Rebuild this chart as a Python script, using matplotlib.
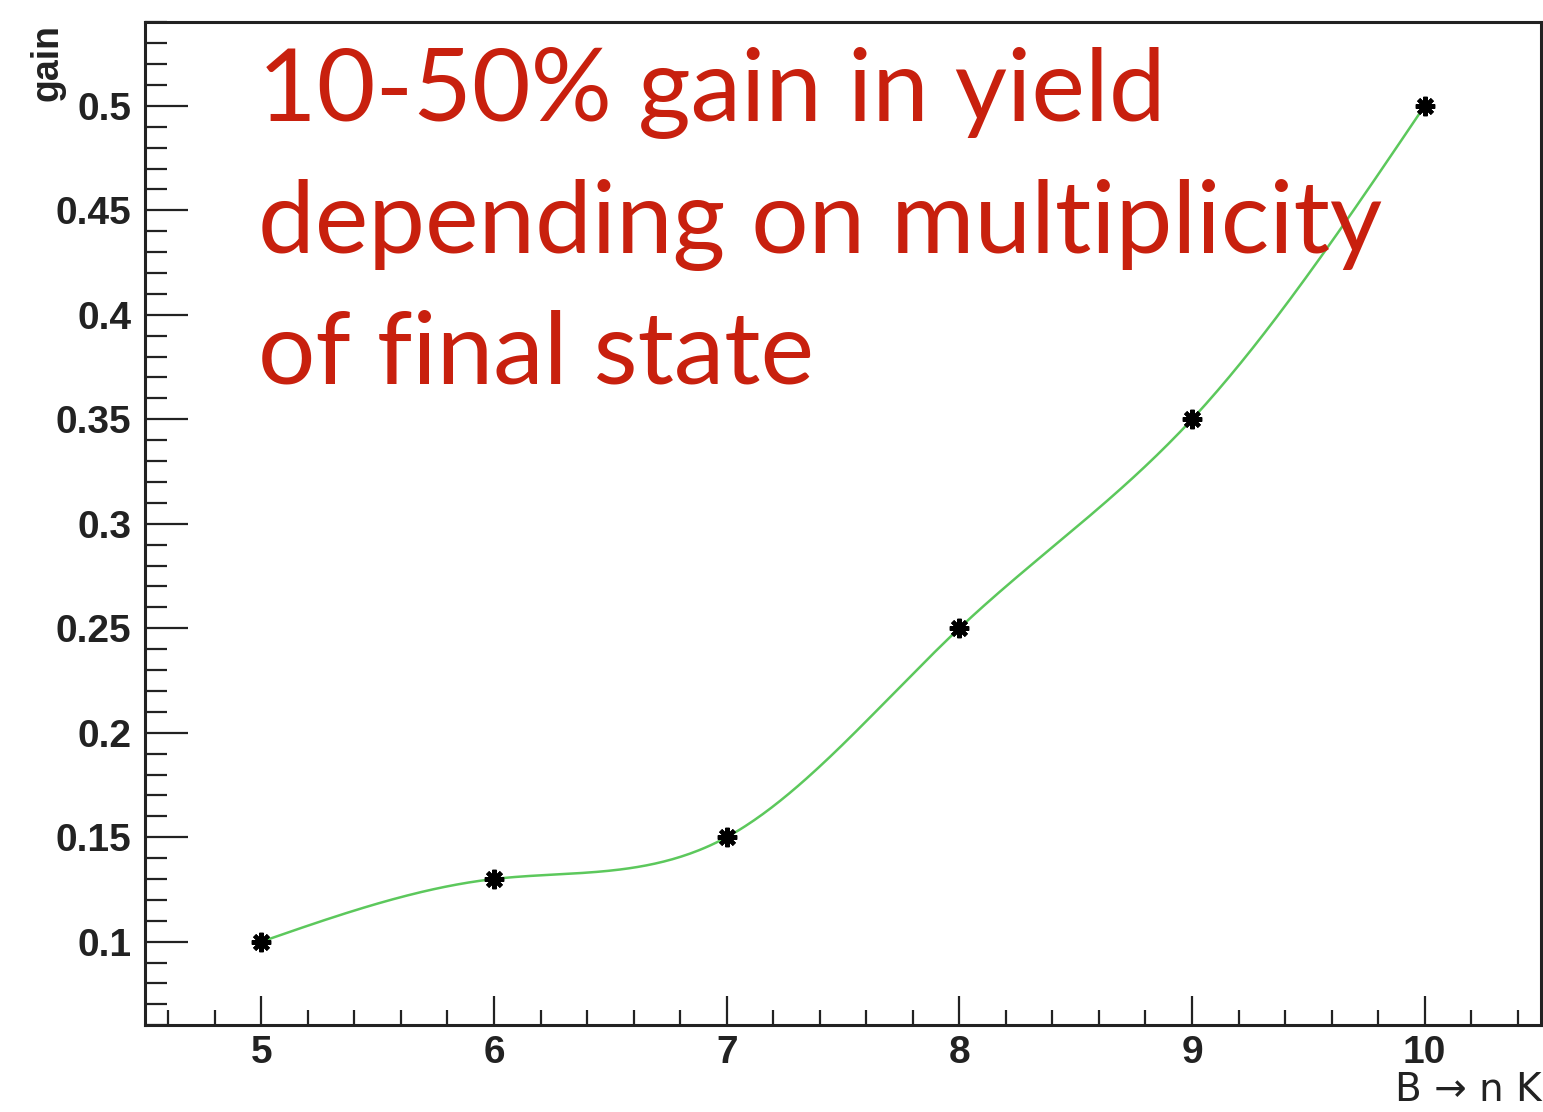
import matplotlib
matplotlib.use("Agg")
import matplotlib.pyplot as plt
from matplotlib.ticker import MultipleLocator
import numpy as np

# data
n_kaons = [5, 6, 7, 8, 9, 10]
gain = [0.10, 0.13, 0.15, 0.25, 0.35, 0.50]


def natural_spline(x, y, xs):
    # plain natural cubic spline, no scipy here
    x = np.asarray(x, float)
    y = np.asarray(y, float)
    n = len(x)
    h = np.diff(x)
    A = np.zeros((n, n))
    b = np.zeros(n)
    A[0, 0] = 1
    A[-1, -1] = 1
    for i in range(1, n - 1):
        A[i, i - 1] = h[i - 1]
        A[i, i] = 2 * (h[i - 1] + h[i])
        A[i, i + 1] = h[i]
        b[i] = 3 * ((y[i + 1] - y[i]) / h[i] - (y[i] - y[i - 1]) / h[i - 1])
    c = np.linalg.solve(A, b)
    out = np.empty_like(xs)
    for k, xv in enumerate(xs):
        i = min(np.searchsorted(x, xv, side="right") - 1, n - 2)
        i = max(i, 0)
        dx = xv - x[i]
        bb = (y[i + 1] - y[i]) / h[i] - h[i] * (2 * c[i] + c[i + 1]) / 3
        d = (c[i + 1] - c[i]) / (3 * h[i])
        out[k] = y[i] + bb * dx + c[i] * dx ** 2 + d * dx ** 3
    return out


plt.rcParams['font.family'] = ['Liberation Sans', 'DejaVu Sans']
plt.rcParams['font.weight'] = 'bold'

fig = plt.figure(figsize=(15.43, 11.12), dpi=100)
ax = fig.add_axes([0.094, 0.078, 0.9047, 0.902])

xs = np.linspace(n_kaons[0], n_kaons[-1], 400)
ax.plot(xs, natural_spline(n_kaons, gain, xs), color="#5cc85c", lw=1.8, zorder=2)
ax.plot(n_kaons, gain, linestyle="none", marker=(8, 2, 0), ms=14, mew=3,
        color="black", zorder=3)

ax.set_xlim(4.5, 10.5)
ax.set_ylim(0.06, 0.54)
ax.xaxis.set_major_locator(MultipleLocator(1))
ax.xaxis.set_minor_locator(MultipleLocator(0.2))
ax.yaxis.set_major_locator(MultipleLocator(0.05))
ax.yaxis.set_minor_locator(MultipleLocator(0.01))
ax.yaxis.set_major_formatter(plt.FuncFormatter(lambda v, p: ("%.2f" % v).rstrip("0")))

for s in ax.spines.values():
    s.set_linewidth(2.2)
    s.set_color("#222222")

# tick lengths in points (1 px = 0.72 pt at dpi 100)
ax.tick_params(axis="both", which="both", direction="in", color="#222222",
               labelsize=28, labelcolor="#222222")
ax.tick_params(axis="x", which="major", length=21, width=1.6, pad=7)
ax.tick_params(axis="x", which="minor", length=11, width=1.6)
ax.tick_params(axis="y", which="major", length=31, width=1.6, pad=10)
ax.tick_params(axis="y", which="minor", length=16, width=1.6)

fig.text(0.031, 0.978, "gain", rotation=90, ha="center", va="top",
         fontsize=27, color="#222222")
# DejaVu has the longer arrow, closer to the ROOT one
fig.text(0.999, 0.003, "B \u2192 n K", ha="right", va="bottom",
         fontsize=28, color="#222222", family=["DejaVu Sans"], fontweight="normal")

ax.text(0.0807, 0.975, "10-50% gain in yield\ndepending on multiplicity\nof final state",
        transform=ax.transAxes, ha="left", va="top", fontsize=73,
        fontweight="normal", color="#c8200e", family=["Lato", "DejaVu Sans"],
        linespacing=1.53)

fig.savefig("out.png", dpi=100)
